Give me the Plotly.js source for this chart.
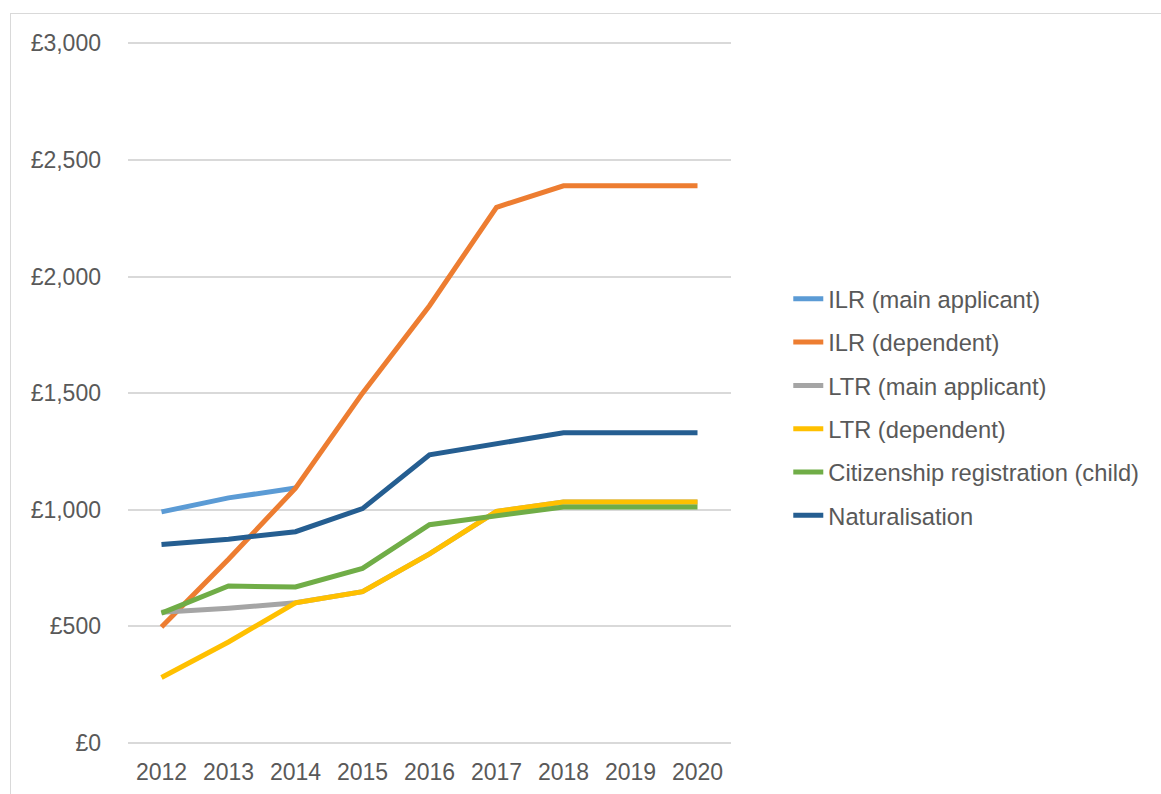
<!DOCTYPE html>
<html>
<head>
<meta charset="utf-8">
<script src="https://cdn.plot.ly/plotly-3.0.1.min.js"></script>
<style>
  html, body { margin: 0; padding: 0; background: #ffffff; overflow: hidden; }
  #chart { width: 1161px; height: 794px; }
  #frame { position: absolute; left: 10px; top: 13px; width: 1200px; height: 900px;
           border: 1.5px solid #d9d9d9; pointer-events: none; }
</style>
</head>
<body>
<div id="chart"></div>
<div id="frame"></div>
<script>
const years = ['2012', '2013', '2014', '2015', '2016', '2017', '2018', '2019', '2020'];
const seriesNames = [
  'ILR (main applicant)',
  'ILR (dependent)',
  'LTR (main applicant)',
  'LTR (dependent)',
  'Citizenship registration (child)',
  'Naturalisation'
];
const ilrMain = [991, 1051, 1093, null, null, null, null, null, null];
const ilrDependent = [497, 788, 1093, 1500, 1875, 2297, 2389, 2389, 2389];
const ltrMain = [561, 578, 601, 649, 811, 993, 1033, 1033, 1033];
const ltrDependent = [281, 433, 601, 649, 811, 993, 1033, 1033, 1033];
const citizenshipChild = [557, 673, 669, 749, 936, 973, 1012, 1012, 1012];
const naturalisation = [851, 874, 906, 1005, 1236, 1282, 1330, 1330, 1330];
const yTickVals = [0, 500, 1000, 1500, 2000, 2500, 3000];
const yTickText = ['£0', '£500', '£1,000', '£1,500', '£2,000', '£2,500', '£3,000'];

const colors = ['#5B9BD5', '#ED7D31', '#A5A5A5', '#FFC000', '#70AD47', '#255E91'];
const allSeries = [ilrMain, ilrDependent, ltrMain, ltrDependent, citizenshipChild, naturalisation];

const traces = allSeries.map((vals, i) => ({
  type: 'scatter',
  mode: 'lines',
  x: years,
  y: vals,
  name: seriesNames[i],
  legendgroup: 'g' + i,
  line: { color: colors[i], width: 5 },
  connectgaps: false,
  hoverinfo: 'x+y+name'
}));

const tickFont = { family: 'Liberation Sans, Arial, sans-serif', size: 23, color: '#595959' };
const legendFont = { family: 'Liberation Sans, Arial, sans-serif', size: 23.7, color: '#595959' };

const layout = {
  width: 1161,
  height: 794,
  margin: { l: 128, r: 430, t: 41, b: 51 },
  paper_bgcolor: '#ffffff',
  plot_bgcolor: '#ffffff',
  font: tickFont,
  showlegend: true,
  legend: {
    x: 1.095, xanchor: 'left',
    y: 0.664, yanchor: 'top',
    font: legendFont,
    tracegroupgap: 9.5,
    bgcolor: 'rgba(0,0,0,0)'
  },
  xaxis: {
    type: 'category',
    range: [-0.5, 8.5],
    showgrid: false,
    zeroline: false,
    showline: false,
    ticks: '',
    ticklabelstandoff: 13,
    tickfont: tickFont,
    fixedrange: true
  },
  yaxis: {
    range: [0, 3010],
    tickvals: yTickVals,
    ticktext: yTickText,
    showgrid: true,
    gridcolor: '#d9d9d9',
    gridwidth: 1.5,
    zeroline: true,
    zerolinecolor: '#d9d9d9',
    zerolinewidth: 1.5,
    showline: false,
    ticks: '',
    ticklabelstandoff: 26,
    tickfont: tickFont,
    fixedrange: true
  }
};

Plotly.newPlot('chart', traces, layout, { displayModeBar: false });
</script>
</body>
</html>
